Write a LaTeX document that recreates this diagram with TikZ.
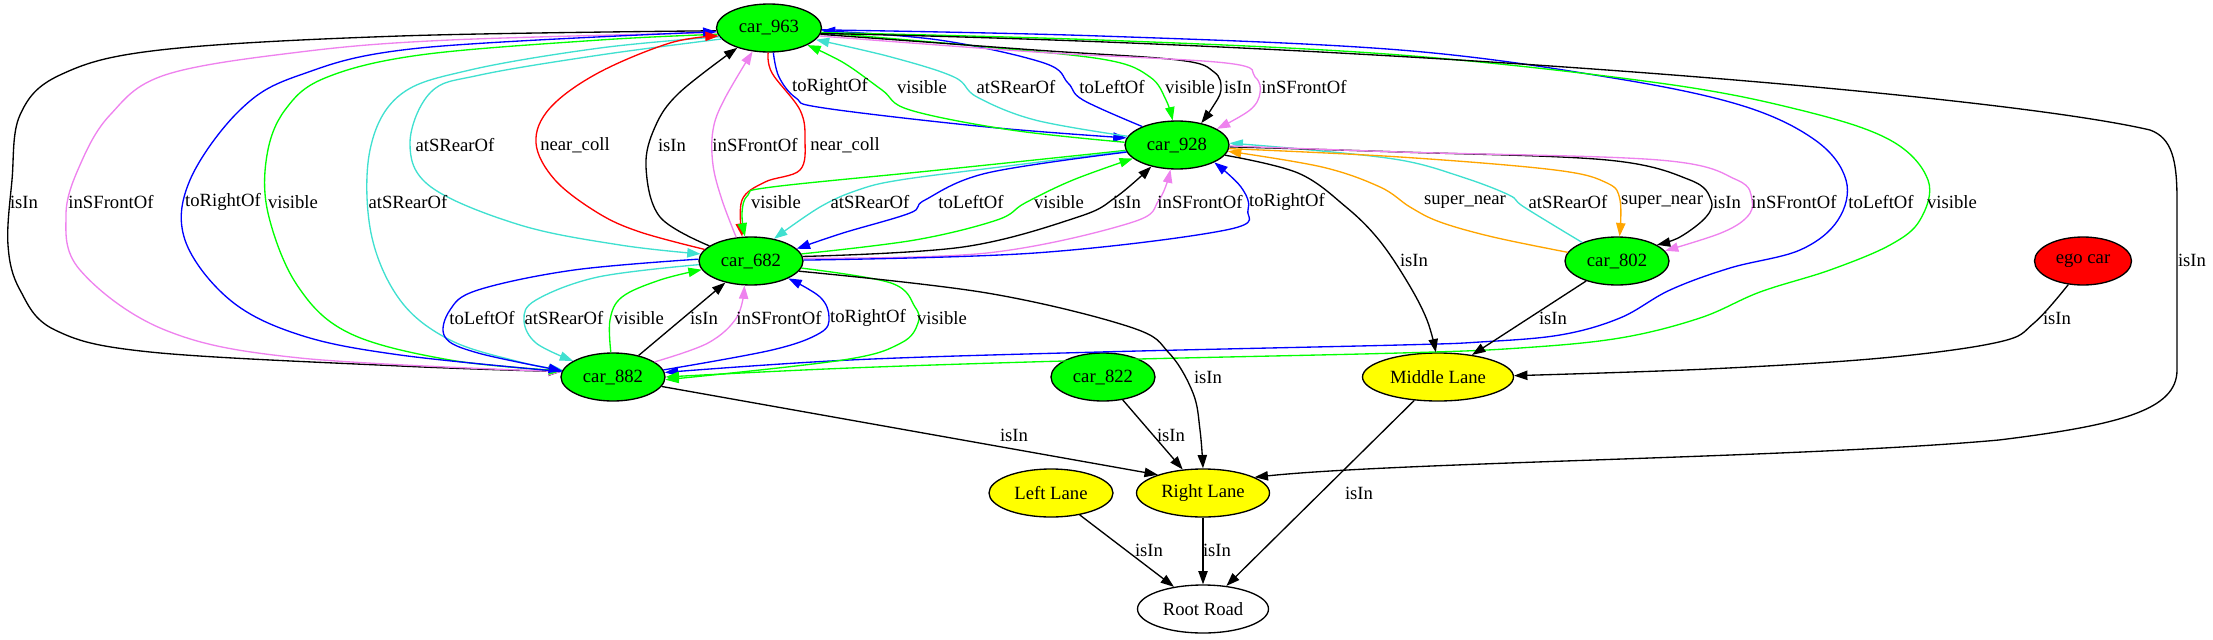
\documentclass[tikz,border=0pt]{standalone}
\usepackage{fontspec}
\setmainfont{Liberation Serif}
\usetikzlibrary{shapes.geometric,arrows.meta}
\definecolor{gvgreen}{HTML}{00FF00}
\definecolor{gvturq}{HTML}{40E0D0}
\definecolor{gvviolet}{HTML}{EE82EE}
\definecolor{gvorange}{HTML}{FFA500}
\definecolor{gvblue}{HTML}{0000FF}
\definecolor{gvred}{HTML}{FF0000}
\definecolor{gvyellow}{HTML}{FFFF00}
\newcommand\gvf{\rmfamily\fontsize{14pt}{16pt}\selectfont}
\begin{document}
\begin{tikzpicture}[x=0.75pt,y=-0.75pt,
  nd/.style={ellipse,draw=black,line width=1pt,minimum height=36pt,inner sep=0pt,font=\gvf},
  car/.style={nd,fill=gvgreen,minimum width=78pt},
  lane/.style={nd,fill=gvyellow},
  e/.style={line width=1pt,-{Triangle[length=10pt,width=7pt]}},
  lab/.style={inner sep=0pt,font=\gvf},
  sm/.style={smooth,tension=0.6}]
\useasboundingbox (0,0) rectangle (2213,639);
% nodes
\node[car,minimum width=78.75pt] (c963) at (769,28) {car\_963};
\node[car] (c928) at (1177,145) {car\_928};
\node[car] (c682) at (751,261) {car\_682};
\node[car] (c802) at (1617,261) {car\_802};
\node[nd,fill=gvred,minimum width=72.75pt] (ego) at (2083,261) {ego car};
\node[car] (c882) at (613,377) {car\_882};
\node[car] (c822) at (1103,377) {car\_822};
\node[lane,minimum width=113.25pt] (mid) at (1438,377) {Middle Lane};
\node[lane,minimum width=93pt] (left) at (1051,493) {Left Lane};
\node[lane,minimum width=99.75pt] (right) at (1203,493) {Right Lane};
\node[nd,fill=white,minimum width=98.25pt] (root) at (1203,609) {Root Road};

% long left group car_963 <-> car_882
\draw[e,black] plot[sm] coordinates {(c963.183) (400,36) (160,50) (60,75) (20,115) (12,180) (8,245) (20,290) (55,330) (150,352) (400,366) (c882.174)};
\draw[e,gvviolet] plot[sm] coordinates {(c963.185) (450,40) (300,52) (165,75) (110,115) (80,165) (66,215) (80,270) (165,330) (300,358) (c882.174)};
\draw[e,gvgreen] plot[sm] coordinates {(c963.187) (600,40) (420,55) (325,78) (285,110) (267,155) (268,213) (297,285) (349,333) (450,360) (c882.173)};
\draw[e,gvturq] plot[sm] coordinates {(c963.190) (600,48) (470,70) (400,95) (370,150) (371,233) (400,300) (450,340) (520,362) (c882.172)};
\draw[e,gvblue] plot[sm] coordinates {(c882.174) (400,355) (300,335) (230,300) (185,240) (190,180) (240,110) (300,75) (420,48) (c963.184)};

% car_963 <-> car_682
\draw[e,gvturq] plot[sm] coordinates {(c963.193) (600,55) (480,75) (431,92) (410,143) (431,187) (520,225) (620,245) (c682.172)};
\draw[e,gvred] plot[sm] coordinates {(c682.166) (640,232) (598,213) (555,180) (536,143) (550,108) (598,73) (670,43) (c963.189)};
\draw[e,black] plot[sm] coordinates {(c682.160) (660,217) (646,167) (655,127) (679,93) (c963.212)};
\draw[e,gvviolet] plot[sm] coordinates {(c682.122) (722,200) (713,165) (713,130) (724,100) (c963.235)};
\draw[e,gvred] plot[sm] coordinates {(c963.268) (772,73) (800,110) (805,140) (800,170) (765,182) (742,200) (c682.110)};

% car_963 <-> car_928
\draw[e,gvblue] plot[sm] coordinates {(c963.280) (779,77) (796,98) (824,108) (987,127) (c928.172)};
\draw[e,gvgreen] plot[sm] coordinates {(c928.177) (1011,130) (910,110) (882,90) (844,63) (c963.336)};
\draw[e,gvturq] plot[sm] coordinates {(c928.170) (1035,120) (977,97) (954,77) (891,57) (c963.346)};
\draw[e,gvblue] plot[sm] coordinates {(c928.152) (1083,100) (1068,83) (1044,63) (939,40) (c963.357)};
\draw[e,gvgreen] plot[sm] coordinates {(c963.355) (987,47) (1107,60) (1150,77) (1166,100) (c928.100)};
\draw[e,black] plot[sm] coordinates {(c963.353) (1035,50) (1178,60) (1214,72) (1221,90) (1212,108) (c928.42)};
\draw[e,gvviolet] plot[sm] coordinates {(c963.351) (1035,52) (1226,63) (1255,77) (1260,93) (1250,110) (c928.22)};

% car_928 <-> car_682
\draw[e,gvgreen] plot[sm] coordinates {(c928.186) (939,170) (772,187) (748,195) (742,213) (c682.104)};
\draw[e,gvturq] plot[sm] coordinates {(c928.187) (1000,167) (900,180) (858,190) (820,207) (c682.44)};
\draw[e,gvblue] plot[sm] coordinates {(c928.188) (987,173) (925,200) (910,213) (843,233) (c682.15)};
\draw[e,gvgreen] plot[sm] coordinates {(c682.8) (915,240) (997,220) (1025,203) (1073,180) (c928.197)};
\draw[e,black] plot[sm] coordinates {(c682.5) (963,247) (1078,217) (1116,197) (c928.220)};
\draw[e,gvviolet] plot[sm] coordinates {(c682.3) (987,253) (1130,223) (1159,200) (c928.255)};
\draw[e,gvblue] plot[sm] coordinates {(c682.1) (1035,253) (1226,230) (1248,210) (1241,187) (c928.335)};

% car_928 <-> car_802
\draw[e,gvorange] plot[sm] coordinates {(c802.170) (1493,237) (1440,222) (1410,207) (1380,187) (1322,167) (c928.353)};
\draw[e,gvturq] plot[sm] coordinates {(c802.152) (1524,207) (1509,195) (1462,177) (1400,160) (1300,149) (c928.2)};
\draw[e,gvorange] plot[sm] coordinates {(c928.356) (1400,157) (1555,170) (1607,183) (1620,200) (c802.84)};
\draw[e,black] plot[sm] coordinates {(c928.358) (1400,152) (1607,160) (1690,180) (1711,200) (1706,217) (1680,237) (c802.22)};
\draw[e,gvviolet] plot[sm] coordinates {(c928.359) (1400,152) (1659,160) (1737,180) (1752,200) (1747,217) (1721,233) (c802.12)};

% long right group
\draw[e,gvblue] plot[sm] coordinates {(c963.358) (1100,36) (1400,50) (1607,77) (1740,105) (1815,140) (1846,180) (1838,220) (1800,250) (1730,268) (1670,290) (1620,318) (1560,335) (1480,342) (1400,345) (1100,352) (850,360) (c882.5)};
\draw[e,gvgreen] plot[sm] coordinates {(c963.355) (1100,40) (1400,55) (1659,83) (1800,110) (1890,140) (1928,180) (1920,220) (1890,245) (1830,270) (1760,292) (1700,318) (1620,338) (1520,348) (1400,353) (1100,360) (850,368) (c882.0)};
\draw[e,black] (c963.354) .. controls (1400,45) and (2000,95) .. (2150,130)
  .. controls (2172,138) and (2177,160) .. (2177,200) -- (2177,370)
  .. controls (2177,410) and (2120,425) .. (1999,440)
  .. controls (1800,458) and (1400,462) .. (right.17);

% car_682 <-> car_882
\draw[e,gvturq] plot[sm] coordinates {(c682.184) (598,277) (536,300) (524,320) (536,343) (c882.158)};
\draw[e,gvgreen] plot[sm] coordinates {(c882.95) (610,320) (622,297) (660,280) (c682.190)};
\draw[e,black] (c882) -- (c682);
\draw[e,gvviolet] plot[sm] coordinates {(c882.20) (708,343) (737,317) (c682.255)};
\draw[e,gvblue] plot[sm] coordinates {(c882.8) (772,350) (820,333) (829,317) (820,297) (c682.335)};
\draw[e,gvgreen] plot[sm] coordinates {(c682.352) (891,283) (915,307) (918,323) (901,343) (843,360) (c882.357)};
\draw[e,gvblue] plot[sm] coordinates {(c682.178) (574,270) (478,290) (450,310) (445,337) (478,353) (c882.173)};

% lanes
\draw[e,black] plot[sm] coordinates {(c928.348) (1298,173) (1346,207) (1379,240) (1408,283) (1427,320) (mid.95)};
\draw[e,black] (c802) -- (mid);
\draw[e,black] plot[sm] coordinates {(ego.238) (2034,323) (1999,342) (1882,358) (1708,369) (mid.1)};
\draw[e,black] plot[sm] coordinates {(c682.348) (987,293) (1130,327) (1169,353) (1193,393) (1200,430) (right.90)};
\draw[e,black] (c882.349) -- (right.158);
\draw[e,black] (c822) -- (right);
\draw[e,black] (left) -- (root);
\draw[e,black] (right) -- (root);
\draw[e,black] (mid) -- (root);

% labels
\node[lab] (l1) at (24,202) {isIn};
\node[lab] (l2) at (111,202) {inSFrontOf};
\node[lab] (l3) at (223,202) {toRightOf};
\node[lab] (l4) at (293,202) {visible};
\node[lab] (l5) at (408,202) {atSRearOf};
\node[lab] (l6) at (455,145) {atSRearOf};
\node[lab] (l7) at (575,145) {near\_coll};
\node[lab] (l8) at (672,145) {isIn};
\node[lab] (l9) at (755,145) {inSFrontOf};
\node[lab] (l10) at (845,145) {near\_coll};
\node[lab] (l11) at (830,87) {toRightOf};
\node[lab] (l12) at (922,87) {visible};
\node[lab] (l13) at (1016,87) {atSRearOf};
\node[lab] (l14) at (1112,87) {toLeftOf};
\node[lab] (l15) at (1190,87) {visible};
\node[lab] (l16) at (1238,87) {isIn};
\node[lab] (l17) at (1304,87) {inSFrontOf};
\node[lab] (l18) at (776,202) {visible};
\node[lab] (l19) at (870,202) {atSRearOf};
\node[lab] (l20) at (971,202) {toLeftOf};
\node[lab] (l21) at (1059,202) {visible};
\node[lab] (l22) at (1127,202) {isIn};
\node[lab] (l23) at (1200,202) {inSFrontOf};
\node[lab] (l24) at (1287,202) {toRightOf};
\node[lab] (l25) at (1465,202) {super\_near};
\node[lab] (l26) at (1568,202) {atSRearOf};
\node[lab] (l27) at (1662,202) {super\_near};
\node[lab] (l28) at (1727,202) {isIn};
\node[lab] (l29) at (1794,202) {inSFrontOf};
\node[lab] (l30) at (1881,202) {toLeftOf};
\node[lab] (l31) at (1952,202) {visible};
\node[lab] (l32) at (2192,260) {isIn};
\node[lab] (l33) at (1414,260) {isIn};
\node[lab] (l34) at (1553,318) {isIn};
\node[lab] (l35) at (2057,318) {isIn};
\node[lab] (l36) at (482,318) {toLeftOf};
\node[lab] (l37) at (564,318) {atSRearOf};
\node[lab] (l38) at (639,318) {visible};
\node[lab] (l39) at (704,318) {isIn};
\node[lab] (l40) at (779,318) {inSFrontOf};
\node[lab] (l41) at (868,318) {toRightOf};
\node[lab] (l42) at (942,318) {visible};
\node[lab] (l43) at (1208,377) {isIn};
\node[lab] (l44) at (1014,435) {isIn};
\node[lab] (l45) at (1171,435) {isIn};
\node[lab] (l46) at (1149,550) {isIn};
\node[lab] (l47) at (1217,550) {isIn};
\node[lab] (l48) at (1359,493) {isIn};
\end{tikzpicture}
\end{document}
